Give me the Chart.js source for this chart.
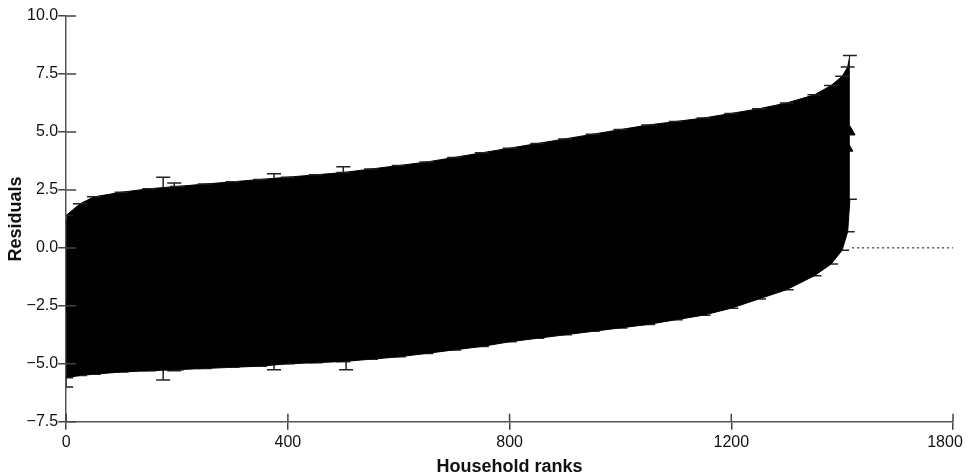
<!DOCTYPE html>
<html>
<head>
<meta charset="utf-8">
<script src="https://cdn.jsdelivr.net/npm/chart.js@4/dist/chart.umd.min.js"></script>
<style>
  html, body { margin: 0; padding: 0; background: #fff; }
  #wrap { width: 968px; height: 476px; }
</style>
</head>
<body>
<div id="wrap"><canvas id="chart"></canvas></div>
<script>
const ranks = [0, 25, 50, 100, 150, 200, 250, 300, 350, 400, 450, 500, 550, 600, 650, 700, 750, 800,
  850, 900, 950, 1000, 1050, 1100, 1150, 1200, 1250, 1300, 1350, 1380, 1400, 1410, 1414]
const upper = [1.4, 1.9, 2.2, 2.4, 2.55, 2.65, 2.75, 2.85, 2.95, 3.05, 3.15, 3.25, 3.4, 3.55, 3.7, 3.9, 4.1, 4.3,
  4.5, 4.7, 4.9, 5.1, 5.3, 5.45, 5.6, 5.8, 6.0, 6.25, 6.6, 7.0, 7.4, 7.8, 8.3]
const lower = [-5.6, -5.5, -5.45, -5.35, -5.3, -5.25, -5.2, -5.15, -5.1, -5.0, -4.95, -4.9, -4.8, -4.7, -4.55, -4.4, -4.25, -4.05,
  -3.9, -3.75, -3.6, -3.45, -3.3, -3.1, -2.9, -2.6, -2.2, -1.8, -1.2, -0.7, -0.1, 0.7, 2.1]
const estimate = [-2.6, -1.9, -1.6, -1.5, -1.4, -1.3, -1.25, -1.15, -1.05, -1.0, -0.9, -0.8, -0.7, -0.6, -0.45, -0.25, -0.1, 0.1,
  0.3, 0.5, 0.65, 0.8, 1.0, 1.2, 1.35, 1.6, 1.9, 2.2, 2.7, 3.1, 3.6, 4.3, 5.0]

// single error bars that stick out of the mass
const oddRanks = [0, 175, 195, 375, 500, 505]
const oddHigh = [1.2, 3.05, 2.8, 3.2, 3.5, 2.9]
const oddLow = [-6.0, -5.7, -5.3, -5.25, -4.9, -5.25]

const refLine = [1418, 1600]   // dotted zero line to the right of the last household

// the last tick of the original axis sits one step after 1200 but reads 1800
const xTicks = [0, 400, 800, 1200, 1600]
const xTickLabels = ['0', '400', '800', '1200', '1800']

const font = "'Liberation Sans', Arial, sans-serif"
const minus = s => s.replace('-', '\u2212')

const pts = (xs, ys) => xs.map((x, i) => ({x: x, y: ys[i]}))

let whiskers = []
oddRanks.forEach((r, i) => {
  whiskers.push({x: r, y: oddHigh[i]}, {x: r, y: oddLow[i]}, {x: r, y: null})
})

const innerTicks = {
  id: 'innerTicks',
  afterDraw(chart) {
    const ctx = chart.ctx
    const xs = chart.scales.x, ys = chart.scales.y
    ctx.save()
    ctx.strokeStyle = '#444'
    ctx.lineWidth = 1.5
    ctx.beginPath()
    ys.ticks.forEach(t => {
      const py = ys.getPixelForValue(t.value)
      ctx.moveTo(xs.left, py); ctx.lineTo(xs.left + 10, py)
    })
    xs.ticks.forEach(t => {
      const px = xs.getPixelForValue(t.value)
      ctx.moveTo(px, ys.bottom); ctx.lineTo(px, ys.bottom - 8)
    })
    ctx.stroke()
    ctx.restore()
  }
}

new Chart(document.getElementById('chart'), {
  type: 'line',
  data: {
    datasets: [
      {
        label: 'upper',
        data: pts(ranks, upper),
        borderColor: '#000',
        borderWidth: 1,
        backgroundColor: '#000',
        fill: '+1',
        pointStyle: 'line',
        pointRadius: 7,
        pointBorderColor: '#222',
        pointBorderWidth: 1.5
      },
      {
        label: 'lower',
        data: pts(ranks, lower),
        borderColor: '#000',
        borderWidth: 1,
        fill: false,
        pointStyle: 'line',
        pointRadius: 7,
        pointBorderColor: '#222',
        pointBorderWidth: 1.5
      },
      {
        label: 'estimate',
        data: pts(ranks, estimate),
        showLine: false,
        pointStyle: 'triangle',
        pointRadius: 6,
        pointBackgroundColor: '#000',
        pointBorderColor: '#000'
      },
      {
        label: 'whiskers',
        data: whiskers,
        borderColor: '#222',
        borderWidth: 1.5,
        spanGaps: false,
        pointStyle: 'line',
        pointRadius: 7,
        pointBorderColor: '#222',
        pointBorderWidth: 1.5
      },
      {
        label: 'zero',
        data: pts(refLine, [0, 0]),
        borderColor: '#000',
        borderWidth: 1,
        borderDash: [2, 3],
        pointRadius: 0
      }
    ]
  },
  options: {
    responsive: true,
    maintainAspectRatio: false,
    animation: false,
    layout: {padding: {top: 16, right: 0, left: 1, bottom: 0}},
    plugins: {legend: {display: false}, tooltip: {enabled: false}},
    scales: {
      x: {
        type: 'linear',
        min: 0,
        max: 1600,
        afterBuildTicks: s => { s.ticks = xTicks.map(v => ({value: v})) },
        afterFit: s => { s.paddingRight = 15 },
        grid: {drawOnChartArea: false, tickLength: 8, color: '#444', lineWidth: 1.5},
        border: {color: '#555', width: 1.5},
        ticks: {color: '#111', font: {family: font, size: 16}, padding: 3, maxRotation: 0,
          // last label sits a little left of its tick, as in the original
          callback: (v, i) => i === xTicks.length - 1 ? xTickLabels[i] + '\u2002\u2002' : xTickLabels[i]},
        title: {display: true, text: 'Household ranks', color: '#111',
          font: {family: font, size: 18, weight: 'bold', lineHeight: 1}, padding: {top: 3, bottom: 0}}
      },
      y: {
        min: -7.5,
        max: 10,
        ticks: {stepSize: 2.5, color: '#111', font: {family: font, size: 16}, padding: 0,
          callback: v => minus(v.toFixed(1))},
        grid: {drawOnChartArea: false, tickLength: 8, color: '#444', lineWidth: 1.5},
        border: {color: '#555', width: 1.5},
        title: {display: true, text: 'Residuals', color: '#111',
          font: {family: font, size: 18, weight: 'bold'}, padding: {bottom: 0}}
      }
    }
  },
  plugins: [innerTicks]
})
</script>
</body>
</html>
